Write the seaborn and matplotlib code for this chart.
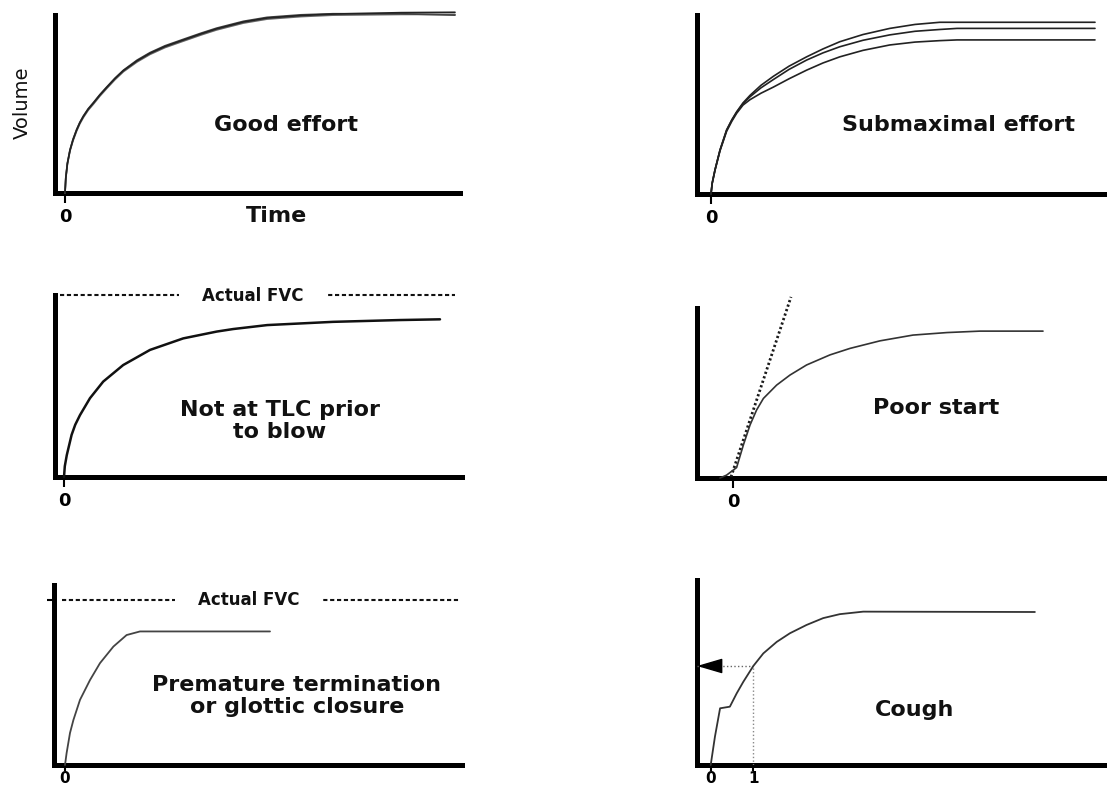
import matplotlib
matplotlib.use("Agg")
import matplotlib.pyplot as plt
import seaborn as sns

# volume-time curves (time in s, volume in L-ish units)
good_time = [0, 0.02, 0.06, 0.125, 0.2, 0.29, 0.37, 0.46, 0.58, 0.71, 0.87, 1.04, 1.25, 1.46,
             1.8, 2.125, 2.5, 2.96, 3.4, 3.79, 4.46, 5.05, 5.9, 6.7, 8.4, 9.75]
good_vol_a = [0, 0.42, 0.82, 1.19, 1.48, 1.75, 1.95, 2.13, 2.33, 2.50, 2.72, 2.93, 3.18, 3.40,
              3.67, 3.88, 4.07, 4.25, 4.42, 4.56, 4.75, 4.86, 4.93, 4.97, 5.01, 5.02]
good_vol_b = [0, 0.40, 0.80, 1.17, 1.45, 1.72, 1.92, 2.10, 2.30, 2.47, 2.69, 2.90, 3.15, 3.37,
              3.64, 3.85, 4.04, 4.22, 4.39, 4.53, 4.72, 4.83, 4.90, 4.94, 4.96, 4.96]
good_vol_c = [0, 0.43, 0.83, 1.20, 1.49, 1.76, 1.96, 2.14, 2.34, 2.51, 2.73, 2.94, 3.19, 3.41,
              3.69, 3.90, 4.09, 4.27, 4.44, 4.58, 4.77, 4.88, 4.95, 4.98, 4.98, 4.94]

sub_time = [0, 0.03, 0.1, 0.225, 0.39, 0.52, 0.64, 0.8, 0.975, 1.25, 1.56, 1.95, 2.39, 2.8,
            3.22, 3.8, 4.47, 5.1, 5.72, 6.15, 9.6]
sub_vol_a = [0, 0.30, 0.67, 1.22, 1.78, 2.06, 2.28, 2.53, 2.74, 3.02, 3.27, 3.55, 3.81, 4.03,
             4.23, 4.43, 4.60, 4.71, 4.77, 4.77, 4.77]
sub_vol_b = [0, 0.30, 0.67, 1.22, 1.77, 2.05, 2.27, 2.51, 2.70, 2.95, 3.18, 3.46, 3.72, 3.92,
             4.09, 4.27, 4.42, 4.52, 4.57, 4.60, 4.60]
sub_vol_c = [0, 0.30, 0.66, 1.20, 1.74, 2.02, 2.24, 2.47, 2.62, 2.80, 2.97, 3.20, 3.44, 3.64,
             3.81, 3.99, 4.14, 4.22, 4.26, 4.28, 4.28]

tlc_time = [0, 0.02, 0.07, 0.19, 0.28, 0.4, 0.65, 0.98, 1.48, 2.15, 2.98, 3.82, 4.23, 5.08,
            6.73, 8.4, 9.4]
tlc_vol = [0, 0.30, 0.61, 1.17, 1.45, 1.72, 2.19, 2.65, 3.11, 3.53, 3.85, 4.04, 4.11, 4.22,
           4.31, 4.36, 4.38]
tlc_fvc = 5.05

poor_time = [-0.325, -0.16, 0.09, 0.26, 0.425, 0.59, 0.76, 1.09, 1.425, 1.84, 2.425, 2.925,
             3.675, 4.5, 5.35, 6.175, 7.75]
poor_vol = [0, 0.08, 0.29, 0.92, 1.47, 1.89, 2.21, 2.58, 2.86, 3.14, 3.42, 3.60, 3.81, 3.97,
            4.04, 4.08, 4.08]
tangent_time = [-0.05, 1.45]
tangent_vol = [0.03, 5.03]

prem_time = [0, 0.04, 0.125, 0.21, 0.375, 0.625, 0.875, 1.21, 1.54, 1.875, 5.125]
prem_vol = [0, 0.33, 0.89, 1.25, 1.81, 2.36, 2.83, 3.29, 3.61, 3.71, 3.71]
prem_fvc = 4.58

cough_time = [0, 0.1, 0.22, 0.45, 0.61, 0.765, 1.0, 1.235, 1.55, 1.86, 2.25, 2.64, 3.03,
              3.58, 7.61]
cough_vol = [0, 0.79, 1.575, 1.62, 1.99, 2.31, 2.75, 3.10, 3.42, 3.66, 3.89, 4.08, 4.19,
             4.26, 4.25]
fev1_time = 1.0

sns.set_theme(style="white")
plt.rcParams["font.family"] = ["DejaVu Sans"]

W, H = 1107, 792
fig = plt.figure(figsize=(W / 100, H / 100), dpi=100)


def panel(left, top, right, bottom, x0, px_sec=40.0, px_vol=36.0, ticks=(0,),
          tick_size=13, tick_len=7, tick_pad=4):
    ax = fig.add_axes([left / W, 1 - bottom / H, (right - left) / W, (bottom - top) / H])
    ax.set_xlim((left - x0) / px_sec, (right - x0) / px_sec)
    ax.set_ylim(0, (bottom - top) / px_vol)
    for s in ["top", "right"]:
        ax.spines[s].set_visible(False)
    for s in ["left", "bottom"]:
        ax.spines[s].set_linewidth(3.6)
        ax.spines[s].set_color("black")
        ax.spines[s].set_capstyle("projecting")
    ax.set_yticks([])
    ax.set_xticks(list(ticks))
    ax.set_xticklabels([str(t) for t in ticks], fontweight="bold")
    ax.tick_params(axis="x", bottom=True, length=tick_len, width=1.5, pad=tick_pad,
                   labelsize=tick_size, color="black", labelcolor="black")
    ax.patch.set_alpha(0)
    return ax


def label(ax, x, y, s, size=16, **kw):
    ax.text(x / W, 1 - y / H, s, transform=fig.transFigure, ha="center", va="center",
            fontsize=size, fontweight="bold", color="#111111", linespacing=1.1, **kw)


def curve(ax, t, v, lw=1.2, color="#222222"):
    sns.lineplot(x=t, y=v, ax=ax, color=color, lw=lw, sort=False,
                 estimator=None, clip_on=False, zorder=4)


# Good effort
ax1 = panel(55, 15, 460, 193, 65)
for v, c in [(good_vol_b, "#666666"), (good_vol_c, "#444444"), (good_vol_a, "#222222")]:
    curve(ax1, good_time, v, color=c)
label(ax1, 286, 125, "Good effort")
label(ax1, 276, 216, "Time")
ax1.text(22 / W, 1 - 103 / H, "Volume", transform=fig.transFigure, rotation=90,
         ha="center", va="center", fontsize=14, color="#111111")

# Submaximal effort
ax2 = panel(697, 15, 1107, 194, 711)
for v in [sub_vol_a, sub_vol_b, sub_vol_c]:
    curve(ax2, sub_time, v)
label(ax2, 959, 125, "Submaximal effort")

# Not at TLC prior to blow
ax3 = panel(55, 295, 462, 477, 64)
ax3.axhline(tlc_fvc, 0.012, 0.983, color="#111111", lw=1.5, ls=(0, (2, 1.3)),
            clip_on=False, zorder=1)
curve(ax3, tlc_time, tlc_vol, lw=1.8, color="#111111")
label(ax3, 253, 296, "Actual FVC", size=12,
      bbox=dict(fc="white", ec="none", pad=17), zorder=2)
label(ax3, 280, 421, "Not at TLC prior\nto blow")

# Poor start
ax4 = panel(697, 308, 1107, 478, 733)
curve(ax4, poor_time, poor_vol, lw=1.2, color="#333333")
sns.lineplot(x=tangent_time, y=tangent_vol, ax=ax4, color="#1a1a1a", lw=2.0,
             ls=(0, (0.8, 0.9)), clip_on=False, zorder=3)
label(ax4, 936, 408, "Poor start")

# Premature termination
ax5 = panel(54, 585, 462, 765, 65, tick_size=11, tick_len=4, tick_pad=0.5)
ax5.set_yticks([prem_fvc])
ax5.set_yticklabels([""])
ax5.tick_params(axis="y", left=True, length=5, width=1.5, color="black")
ax5.axhline(prem_fvc, 0.02, 0.995, color="#111111", lw=1.5, ls=(0, (2, 1.3)),
            clip_on=False, zorder=1)
curve(ax5, prem_time, prem_vol, lw=1.3, color="#444444")
label(ax5, 249, 600, "Actual FVC", size=12,
      bbox=dict(fc="white", ec="none", pad=17), zorder=2)
label(ax5, 297, 696, "Premature termination\nor glottic closure")

# Cough
ax6 = panel(697, 580, 1107, 765, 710.7, px_sec=42.6, ticks=(0, 1),
            tick_size=11, tick_len=4, tick_pad=0.5)
curve(ax6, cough_time, cough_vol, lw=1.3, color="#333333")
fev1 = cough_vol[cough_time.index(fev1_time)]
xl = ax6.get_xlim()[0]
ax6.plot([xl, fev1_time], [fev1, fev1], color="#666666", lw=1.0, ls=":", zorder=3)
ax6.plot([fev1_time, fev1_time], [0, fev1], color="#888888", lw=1.0, ls=":", zorder=3)
ax6.annotate("", xy=(xl, fev1), xytext=(24, 0), textcoords="offset pixels",
             arrowprops=dict(arrowstyle="-|>,head_length=16,head_width=4.7",
                             mutation_scale=1, color="black", lw=1,
                             shrinkA=0, shrinkB=0))
label(ax6, 915, 710, "Cough")

fig.savefig("out.png", dpi=100)
